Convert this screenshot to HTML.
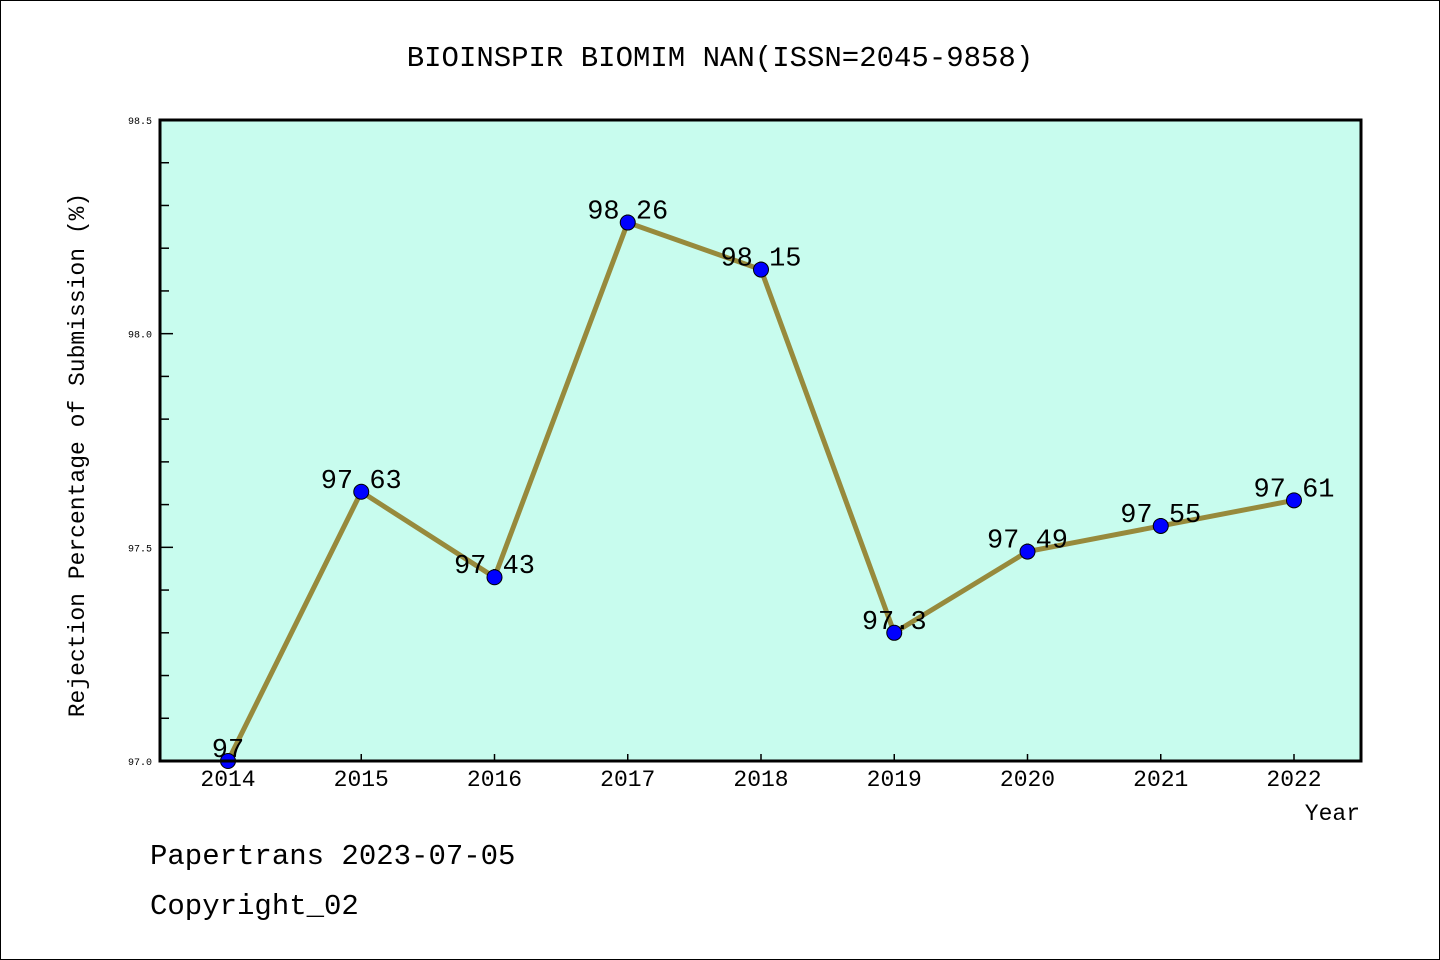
<!DOCTYPE html>
<html><head><meta charset="utf-8"><style>
body{margin:0;background:#fff}
svg{display:block;font-family:"WenQuanYi Zen Hei","Liberation Mono",monospace}
</style></head><body>
<svg width="1440" height="960" id="c">
<rect x="0.5" y="0.5" width="1439" height="959" fill="#fff" stroke="#000"/>
<text x="720" y="66" font-size="29" text-anchor="middle">BIOINSPIR BIOMIM NAN(ISSN=2045-9858)</text>
<rect x="160" y="120" width="1201" height="641" fill="#c8fcee"/>
<g id="ticks"></g>
<g id="series"></g>
<rect x="160" y="120" width="1201" height="641" fill="none" stroke="#000" stroke-width="3"/>
<text transform="translate(84,455) rotate(-90)" font-size="23" text-anchor="middle">Rejection Percentage of Submission (%)</text>
<text x="1360" y="820" font-size="23" text-anchor="end">Year</text>
<text x="150" y="864" font-size="29">Papertrans 2023-07-05</text>
<text x="150" y="914" font-size="29">Copyright_02</text>
</svg>
<script>
const years = [2014,2015,2016,2017,2018,2019,2020,2021,2022];
const values = [97,97.63,97.43,98.26,98.15,97.3,97.49,97.55,97.61];
const valueLabels = ["97","97.63","97.43","98.26","98.15","97.3","97.49","97.55","97.61"];
const yTickLabels = ["97.0","97.5","98.0","98.5"];
const yMin=97.0,yMax=98.5;
const NS="http://www.w3.org/2000/svg";
function xs(i){return 228+i*(1294-228)/(years.length-1);}
function ys(v){return 761-(v-yMin)/(yMax-yMin)*641;}
function mk(tag,attrs,parent){const e=document.createElementNS(NS,tag);for(const k in attrs)e.setAttribute(k,attrs[k]);parent.appendChild(e);return e;}
const tg=document.getElementById('ticks'),sg=document.getElementById('series');
for(let k=0;k<=15;k++){const v=yMin+k*0.1;const y=ys(v);const major=k%5===0;
 const t=mk('line',{x1:160,x2:major?173:169,y1:y,y2:y,stroke:'#000','stroke-width':1.5},tg);
 
 
 if(major){const l=mk('text',{x:152,y:y+4,'font-size':10,'text-anchor':'end'},tg);l.textContent=yTickLabels[k/5];
 
 }}
years.forEach((yr,i)=>{const x=xs(i);
 const t=mk('line',{x1:x,x2:x,y1:761,y2:754,stroke:'#000','stroke-width':1.5},tg);
 
 
 const l=mk('text',{x:x,y:786,'font-size':23,'text-anchor':'middle'},tg);l.textContent=yr;
 
 });
const pts=values.map((v,i)=>xs(i)+','+ys(v)).join(' ');
const pl=mk('polyline',{points:pts,fill:'none',stroke:'#978a3c','stroke-width':5,'stroke-linejoin':'round'},sg);


values.forEach((v,i)=>{const l=mk('text',{x:xs(i),y:ys(v)-4,'font-size':27,'text-anchor':'middle'},sg);l.textContent=valueLabels[i];
 
 });
values.forEach((v,i)=>{const c=mk('circle',{cx:xs(i),cy:ys(v),r:7.5,fill:'#0000ff',stroke:'#000','stroke-width':1},sg);
 
 });
</script>
</body></html>
